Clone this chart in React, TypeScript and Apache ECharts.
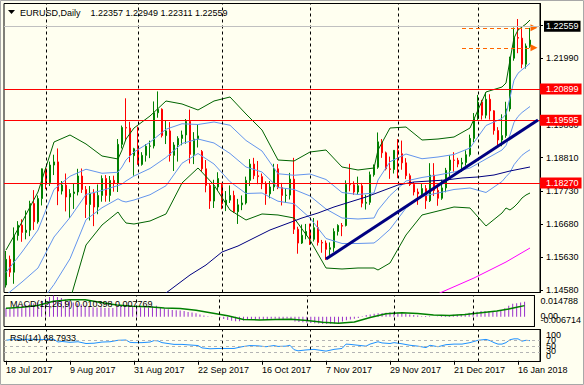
import React, { useEffect, useRef } from 'react';
import * as echarts from 'echarts';

const FONT = 'Liberation Sans';
const BG = '#FFFFF0';
const SLOTS = 134;

const dateLabels = ['18 Jul 2017', '9 Aug 2017', '31 Aug 2017', '22 Sep 2017', '16 Oct 2017', '7 Nov 2017', '29 Nov 2017', '21 Dec 2017', '16 Jan 2018'];
const monthStartBars = [10, 33, 54, 76, 98, 118];

const opens = [1.1474,1.1556,1.1515,1.1632,1.1665,1.1642,1.1649,1.1734,1.1676,1.1750,
 1.1845,1.1801,1.1857,1.1867,1.1774,1.1793,1.1755,1.1766,1.1771,1.1822,
 1.1779,1.1731,1.1767,1.1723,1.1760,1.1814,1.1760,1.1808,1.1799,1.1923,
 1.1977,1.1975,1.1887,1.1909,1.1859,1.1888,1.1917,1.1918,1.2024,1.2035,
 1.1951,1.1966,1.1888,1.1921,1.1942,1.1953,1.1996,1.1891,1.1940,1.1900,
 1.1845,1.1792,1.1742,1.1787,1.1793,1.1733,1.1745,1.1760,1.1708,1.1730,
 1.1736,1.1808,1.1860,1.1823,1.1820,1.1797,1.1765,1.1787,1.1845,1.1785,
 1.1760,1.1761,1.1812,1.1652,1.1608,1.1633,1.1645,1.1620,1.1657,1.1610,
 1.1608,1.1588,1.1593,1.1645,1.1664,1.1664,1.1795,1.1794,1.1771,1.1791,
 1.1735,1.1738,1.1826,1.1850,1.1931,1.1896,1.1845,1.1843,1.1904,1.1893,
 1.1864,1.1823,1.1795,1.1771,1.1765,1.1782,1.1743,1.1825,1.1776,1.1751,
 1.1784,1.1840,1.1873,1.1872,1.1860,1.1865,1.1890,1.1942,1.2005,1.2058,
 1.2016,1.2067,1.2030,1.1967,1.1937,1.1951,1.2036,1.2198,1.2264,1.2262,
 1.2179,1.22357];

const highs = [1.1583,1.1568,1.1658,1.1678,1.1684,1.1712,1.1743,1.1777,1.1760,1.1846,
 1.1846,1.1868,1.1890,1.1910,1.1806,1.1830,1.1780,1.1797,1.1845,1.1846,
 1.1790,1.1790,1.1780,1.1795,1.1824,1.1825,1.1822,1.1823,1.1940,1.1983,
 1.2070,1.1995,1.1912,1.1980,1.1898,1.1924,1.1935,1.2060,1.2092,1.2038,
 1.2000,1.1994,1.1930,1.1949,1.1967,1.2004,1.2034,1.1962,1.1985,1.1905,
 1.1873,1.1797,1.1810,1.1834,1.1800,1.1774,1.1792,1.1775,1.1749,1.1760,
 1.1820,1.1876,1.1880,1.1870,1.1830,1.1805,1.1806,1.1861,1.1860,1.1800,
 1.1781,1.1832,1.1880,1.1660,1.1667,1.1669,1.1670,1.1688,1.1680,1.1618,
 1.1616,1.1610,1.1655,1.1668,1.1672,1.1808,1.1861,1.1805,1.1820,1.1800,
 1.1762,1.1836,1.1859,1.1961,1.1940,1.1900,1.1884,1.1905,1.1940,1.1935,
 1.1879,1.1830,1.1803,1.1782,1.1799,1.1793,1.1863,1.1863,1.1790,1.1810,
 1.1848,1.1888,1.1898,1.1880,1.1880,1.1904,1.1954,1.2023,1.2081,1.2065,
 1.2089,1.2083,1.2032,1.1978,1.2019,1.2059,1.2203,1.2296,1.2323,1.2296,
 1.2245,1.22949];

const lows = [1.1466,1.1500,1.1478,1.1616,1.1612,1.1620,1.1630,1.1650,1.1670,1.1728,
 1.1780,1.1790,1.1825,1.1729,1.1763,1.1709,1.1688,1.1717,1.1760,1.1768,
 1.1688,1.1680,1.1662,1.1700,1.1740,1.1740,1.1740,1.1772,1.1771,1.1910,
 1.1935,1.1866,1.1823,1.1858,1.1855,1.1868,1.1879,1.1910,1.2008,1.1945,
 1.1924,1.1868,1.1838,1.1868,1.1920,1.1925,1.1862,1.1860,1.1913,1.1836,
 1.1770,1.1717,1.1720,1.1774,1.1716,1.1710,1.1736,1.1704,1.1669,1.1713,
 1.1731,1.1790,1.1812,1.1796,1.1780,1.1730,1.1751,1.1774,1.1780,1.1728,
 1.1736,1.1747,1.1637,1.1574,1.1605,1.1620,1.1602,1.1613,1.1600,1.1577,
 1.1554,1.1567,1.1580,1.1632,1.1630,1.1661,1.1773,1.1762,1.1762,1.1722,
 1.1715,1.1730,1.1820,1.1845,1.1880,1.1840,1.1813,1.1830,1.1815,1.1842,
 1.1812,1.1790,1.1760,1.1730,1.1758,1.1717,1.1739,1.1758,1.1727,1.1746,
 1.1770,1.1820,1.1836,1.1850,1.1835,1.1855,1.1884,1.1930,1.2000,1.2002,
 1.2006,1.2002,1.1954,1.1915,1.1917,1.1944,1.2028,1.2190,1.2214,1.2166,
 1.2165,1.22311];

const closes = [1.1556,1.1515,1.1632,1.1665,1.1642,1.1649,1.1734,1.1676,1.1750,1.1845,
 1.1801,1.1857,1.1867,1.1774,1.1793,1.1755,1.1766,1.1771,1.1822,1.1779,
 1.1731,1.1767,1.1723,1.1760,1.1814,1.1760,1.1808,1.1799,1.1923,1.1977,
 1.1975,1.1887,1.1909,1.1859,1.1888,1.1917,1.1918,1.2024,1.2035,1.1951,
 1.1966,1.1888,1.1921,1.1942,1.1953,1.1996,1.1891,1.1940,1.1950,1.1845,
 1.1792,1.1742,1.1787,1.1814,1.1733,1.1745,1.1760,1.1708,1.1730,1.1736,
 1.1808,1.1860,1.1823,1.1820,1.1797,1.1765,1.1787,1.1845,1.1785,1.1760,
 1.1761,1.1812,1.1652,1.1608,1.1633,1.1645,1.1620,1.1657,1.1610,1.1608,
 1.1588,1.1593,1.1645,1.1664,1.1662,1.1795,1.1794,1.1771,1.1791,1.1735,
 1.1738,1.1826,1.1850,1.1931,1.1896,1.1845,1.1843,1.1904,1.1893,1.1864,
 1.1823,1.1795,1.1771,1.1765,1.1782,1.1743,1.1825,1.1776,1.1751,1.1784,
 1.1840,1.1873,1.1872,1.1860,1.1865,1.1890,1.1942,1.2005,1.2058,1.2016,
 1.2067,1.2030,1.1967,1.1937,1.1951,1.2036,1.2198,1.2264,1.2262,1.2179,
 1.2237,1.22559];

// Bollinger bands (20,2 green; 20,1 blue with middle), read at sample bars
const bandIdx = [0,4,8,12,16,20,24,28,29,30,32,36,40,44,48,52,56,60,64,68,72,76,80,84,88,92,93,96,100,104,108,112,116,120,124,125,126,127,128,129,130,131];
const bbUpper2 = [1.15858,1.16752,1.17710,1.19306,1.19529,1.19242,1.18859,1.18763,1.19050,1.19401,1.19752,1.20135,1.20614,1.20519,1.20327,1.20614,1.20742,1.20199,1.19689,1.18731,1.18699,1.18986,1.19050,1.18508,1.18412,1.18476,1.19050,1.19752,1.19784,1.19369,1.19401,1.19465,1.19752,1.20902,1.21061,1.21189,1.21923,1.22625,1.22880,1.22976,1.23072,1.23200];
const bbUpper1 = [1.15140,1.15795,1.16497,1.17790,1.18212,1.18436,1.18308,1.18340,1.18508,1.18731,1.18986,1.19298,1.19713,1.19888,1.19864,1.19944,1.19840,1.19354,1.19018,1.18292,1.18244,1.18284,1.18109,1.17694,1.17630,1.17678,1.18093,1.18675,1.18923,1.18771,1.18827,1.18907,1.19114,1.19832,1.20056,1.20191,1.20726,1.21277,1.21500,1.21612,1.21707,1.21819];
const bbMiddle = [1.14422,1.14837,1.15284,1.16273,1.16896,1.17630,1.17758,1.17917,1.17965,1.18061,1.18220,1.18460,1.18811,1.19258,1.19401,1.19274,1.18939,1.18508,1.18348,1.17853,1.17790,1.17582,1.17167,1.16880,1.16848,1.16880,1.17135,1.17598,1.18061,1.18173,1.18252,1.18348,1.18476,1.18763,1.19050,1.19194,1.19529,1.19928,1.20120,1.20247,1.20343,1.20439];
const bbLower1 = [1.13704,1.13880,1.14071,1.14757,1.15579,1.16824,1.17207,1.17494,1.17422,1.17391,1.17454,1.17622,1.17909,1.18627,1.18939,1.18603,1.18037,1.17662,1.17678,1.17415,1.17335,1.16880,1.16226,1.16066,1.16066,1.16082,1.16178,1.16521,1.17199,1.17574,1.17678,1.17790,1.17837,1.17694,1.18045,1.18196,1.18332,1.18580,1.18739,1.18883,1.18978,1.19058];
const bbLower2 = [1.12986,1.12922,1.12858,1.13241,1.14263,1.16018,1.16656,1.17071,1.16880,1.16720,1.16688,1.16784,1.17008,1.17997,1.18476,1.17933,1.17135,1.16816,1.17008,1.16976,1.16880,1.16178,1.15284,1.15252,1.15284,1.15284,1.15220,1.15443,1.16337,1.16976,1.17103,1.17231,1.17199,1.16625,1.17039,1.17199,1.17135,1.17231,1.17359,1.17518,1.17614,1.17678];

// moving averages
const maNavyIdx = [36,42,46,50,54,58,62,66,70,74,78,82,86,90,94,98,102,106,110,114,118,122,126,131];
const maNavyVals = [1.14103,1.14678,1.15061,1.15380,1.15795,1.15986,1.16242,1.16497,1.16688,1.16880,1.17039,1.17231,1.17391,1.17550,1.17742,1.17933,1.18029,1.18061,1.18093,1.18157,1.18189,1.18252,1.18380,1.18508];
const maMagentaIdx = [106,109,113,117,121,125,128,131];
const maMagentaVals = [1.14326,1.14518,1.14741,1.14965,1.15220,1.15475,1.15699,1.15922];

// trend line
const trendIdx = [80, 133];
const trendVals = [1.1557, 1.2001];

const levelLines = [1.20899, 1.19595, 1.18270];
const bidPrice = 1.22559;
const lastBarHigh = 1.22949;
const lastBarLow = 1.22311;
const headerPrices = [1.22357, 1.22949, 1.22311, 1.22559];
const priceTicks = [1.2304, 1.2199, 1.1986, 1.1881, 1.1773, 1.1668, 1.1563, 1.1458];

const macdHist = [0.0062,0.0061,0.0068,0.0076,0.0080,0.0084,0.0092,0.0093,0.0099,0.0112,
 0.0125,0.0138,0.01478,0.0138,0.0130,0.0120,0.0110,0.0100,0.0093,0.0085,
 0.0076,0.0072,0.0066,0.0064,0.0066,0.0062,0.0063,0.0062,0.0071,0.0078,
 0.0082,0.0076,0.0074,0.0068,0.0066,0.0066,0.0065,0.0073,0.0076,0.0064,
 0.0058,0.0052,0.0048,0.0045,0.0043,0.0040,0.0033,0.0030,0.0025,0.0016,
 0.0010,0.0004,0.0002,0.0001,-0.0009,-0.0015,-0.0022,-0.0027,-0.0031,-0.0031,
 -0.0026,-0.0020,-0.0017,-0.0016,-0.0017,-0.0019,-0.0018,-0.0013,-0.0014,-0.0016,
 -0.0017,-0.0012,-0.0022,-0.0032,-0.0036,-0.0038,-0.0041,-0.0042,-0.0045,-0.0047,
 -0.0050,-0.0050,-0.0048,-0.0046,-0.0045,-0.0033,-0.0024,-0.0019,-0.0014,-0.0008,
 0.0004,0.0012,0.0016,0.0022,0.0025,0.0027,0.0028,0.0031,0.0031,0.0030,
 0.0026,0.0021,0.0016,0.0012,0.0009,0.0004,0.0006,0.0004,0.0001,0.0002,
 0.0006,0.0011,0.0013,0.0014,0.0015,0.0017,0.0022,0.0029,0.0033,0.0036,
 0.0040,0.0041,0.0040,0.0038,0.0039,0.0044,0.0060,0.0077,0.0090,0.0094,
 0.0099,0.010398];
const signalIdx = [0,4,8,12,16,20,24,28,32,36,40,44,48,52,56,60,64,68,72,76,80,84,88,92,96,100,104,108,112,116,120,124,127,129,131];
const signalVals = [0.0060,0.0066,0.0078,0.0108,0.0118,0.0118,0.0100,0.0082,0.0073,0.0070,0.0062,0.0057,0.0045,0.0027,0.0007,-0.0018,-0.0022,-0.0019,-0.0017,-0.0026,-0.0038,-0.0044,-0.0036,-0.0005,0.0022,0.0028,0.0023,0.0013,0.0009,0.0016,0.0029,0.0040,0.0055,0.0066,0.007769];
const macdTicks = [0.014788, 0, -0.006714];
const macdTickText = ['0.014788', '0.00', '-0.006714'];
const macdLabelShift = [5.5, -0.5, -6.5];

const rsiIdx = [0,2,4,6,8,10,12,13,14,16,18,20,22,24,26,28,30,31,32,34,36,37,38,39,41,42,44,46,48,49,51,53,55,57,59,61,63,65,67,68,70,71,72,73,75,77,79,80,82,84,85,86,88,90,91,93,94,96,97,99,101,103,105,106,108,110,112,114,116,117,118,120,121,122,123,124,125,126,127,128,129,130,131];
const rsiVals = [70,74,72,74,72,73,73,64,66,63,65,59,60,64,65,70,71,63,62,62,64,69,68,62,58,56,56,54,52,44,41,42,42,42,48,52,51,48,52,49,50,53,38,34,37,39,35,33,39,42,57,56,53,50,57,65,61,59,62,58,53,50,45,53,48,55,57,57,62,66,70,73,69,62,57,57,62,72,75,75,67,70,68.79];
const rsiTicks = [100, 70, 50, 30, 0];
const rsiLabelShift = [3.5, 0, 0, -1, -5];
const rsiLevels = [70, 50, 30];

const pairs = (idx: number[], vals: number[]) => idx.map((x, k) => [x, vals[k]]);

function buildOption() {
  const cats = Array.from({ length: SLOTS }, (_, i) => String(i));
  const txt = { fontSize: 9, fontFamily: FONT, color: '#000' };
  const vDash = monthStartBars.map((b) => ({ xAxis: b, lineStyle: { color: '#000', type: [3, 3], width: 1 } }));
  const xAxisOf = (gridIndex: number, labels: boolean) => ({
    type: 'category', gridIndex, data: cats, boundaryGap: true,
    axisLine: { show: false },
    axisTick: labels
      ? { show: true, interval: (i: number) => i % 16 === 0, alignWithLabel: true, length: 4, lineStyle: { color: '#000' } }
      : { show: false },
    axisLabel: labels
      ? { show: true, interval: (i: number) => i % 16 === 0, formatter: (_v: string, i: number) => dateLabels[Math.round(i / 16)] || '', align: 'left', margin: 4, ...txt }
      : { show: false },
    splitLine: { show: false },
  });
  // one y axis per sub-window label, so that every label is kept as in the reference
  const labelAxis = (gridIndex: number, min: number, max: number, value: number, text: string, shift: number) => {
    const pad = Math.round(Math.abs(shift) * 2);
    const padding = shift > 0 ? [pad, 0, 0, 0] : shift < 0 ? [0, 0, pad, 0] : [0, 0, 0, 0];
    return {
      type: 'value', gridIndex, position: 'right', min, max,
      axisLine: { show: false }, axisTick: { show: false }, splitLine: { show: false },
      axisLabel: {
        show: true, showMinLabel: true, showMaxLabel: true, customValues: [value], margin: 6, ...txt,
        formatter: () => `{t|${text}}`,
        rich: { t: { ...txt, padding } },
      },
    };
  };
  const bandLine = (vals: number[], color: string) => ({
    type: 'line', xAxisIndex: 0, yAxisIndex: 0, data: pairs(bandIdx, vals), symbol: 'none', silent: true,
    lineStyle: { color, width: 1 }, z: 3,
  });
  const ohlc = opens.map((o, i) => [o, closes[i], lows[i], highs[i]]);
  const macdMin = -0.006714, macdMax = 0.014788, rsiMin = -2.5, rsiMax = 106.9;

  return {
    animation: false,
    backgroundColor: BG,
    grid: [
      { left: 4, top: 3.5, width: 536, height: 289, show: true, borderColor: '#000', borderWidth: 1, backgroundColor: 'transparent' },
      { left: 4, top: 295.5, width: 536, height: 31, show: true, borderColor: '#000', borderWidth: 1, backgroundColor: 'transparent' },
      { left: 4, top: 329.5, width: 536, height: 32, show: true, borderColor: '#000', borderWidth: 1, backgroundColor: 'transparent' },
    ],
    xAxis: [xAxisOf(0, false), xAxisOf(1, false), xAxisOf(2, true)],
    yAxis: [
      {
        type: 'value', position: 'right', gridIndex: 0, min: 1.145019, max: 1.237262, splitLine: { show: false },
        axisLine: { show: true, lineStyle: { color: '#000' } },
        axisTick: { show: true, length: 3, customValues: priceTicks, lineStyle: { color: '#000' } },
        axisLabel: { show: true, showMinLabel: true, showMaxLabel: true, customValues: priceTicks, formatter: (v: number) => v.toFixed(5), margin: 6, ...txt },
      },
      {
        type: 'value', position: 'right', gridIndex: 1, min: macdMin, max: macdMax, splitLine: { show: false },
        axisLine: { show: true, lineStyle: { color: '#000' } }, axisTick: { show: false }, axisLabel: { show: false },
      },
      {
        type: 'value', position: 'right', gridIndex: 2, min: rsiMin, max: rsiMax, splitLine: { show: false },
        axisLine: { show: true, lineStyle: { color: '#000' } }, axisTick: { show: false }, axisLabel: { show: false },
      },
      ...macdTicks.map((v, k) => labelAxis(1, macdMin, macdMax, v, macdTickText[k], macdLabelShift[k])),
      ...rsiTicks.map((v, k) => labelAxis(2, rsiMin, rsiMax, v, String(v), rsiLabelShift[k])),
    ],
    graphic: [
      { type: 'rect', silent: true, z: 0, shape: { x: 0.5, y: 0.5, width: 583, height: 384 }, style: { fill: 'none', stroke: '#a8a8a8', lineWidth: 1 } },
      { type: 'polygon', silent: true, z: 10, shape: { points: [[8, 10], [15, 10], [11.5, 14]] }, style: { fill: '#000' } },
      { type: 'text', silent: true, z: 10, x: 20, y: 12.5, style: { text: 'EURUSD,Daily', fill: '#000', fontSize: 9, fontFamily: FONT, verticalAlign: 'middle' } },
      { type: 'text', silent: true, z: 10, x: 90.5, y: 12.5, style: { text: headerPrices.map((p) => p.toFixed(5)).join(' '), fill: '#000', fontSize: 9, fontFamily: FONT, verticalAlign: 'middle' } },
      { type: 'text', silent: true, z: 10, x: 10, y: 304, style: { text: `MACD(12,26,9) ${macdHist[macdHist.length - 1].toFixed(6)} ${signalVals[signalVals.length - 1].toFixed(6)}`, fill: '#000', fontSize: 9, fontFamily: FONT, verticalAlign: 'middle' } },
      { type: 'text', silent: true, z: 10, x: 10, y: 338, style: { text: `RSI(14) ${'68.7933'}`, fill: '#000', fontSize: 9, fontFamily: FONT, verticalAlign: 'middle' } },
    ],
    series: [
      {
        type: 'candlestick', xAxisIndex: 0, yAxisIndex: 0, data: ohlc, barWidth: 2, silent: true, z: 2,
        itemStyle: { color: '#00a000', color0: '#ff0000', borderColor: '#008000', borderColor0: '#ff0000', borderWidth: 1 },
      },
      bandLine(bbUpper2, '#006400'),
      bandLine(bbUpper1, '#6495ED'),
      bandLine(bbMiddle, '#6495ED'),
      bandLine(bbLower1, '#6495ED'),
      {
        ...bandLine(bbLower2, '#006400'),
        markLine: { silent: true, symbol: ['none', 'none'], label: { show: false }, data: vDash },
      },
      {
        type: 'line', xAxisIndex: 0, yAxisIndex: 0, data: pairs(maNavyIdx, maNavyVals), symbol: 'none', silent: true,
        lineStyle: { color: '#000080', width: 1 }, z: 3,
      },
      {
        type: 'line', xAxisIndex: 0, yAxisIndex: 0, data: pairs(maMagentaIdx, maMagentaVals), symbol: 'none', silent: true,
        lineStyle: { color: '#ff00ff', width: 1 }, z: 3,
        markLine: {
          silent: true, symbol: ['none', 'triangle'], symbolSize: 7, label: { show: false },
          lineStyle: { color: '#ff6600', type: [4, 3], width: 1 },
          data: [lastBarHigh, lastBarLow].map((p) => [{ coord: [114, p] }, { coord: [132, p] }]),
        },
      },
      {
        type: 'line', xAxisIndex: 0, yAxisIndex: 0, data: pairs(trendIdx, trendVals), symbol: 'none', silent: true,
        lineStyle: { color: '#000080', width: 3 }, z: 5,
        markLine: {
          silent: true, symbol: ['none', 'none'],
          data: [
            {
              yAxis: bidPrice, lineStyle: { color: '#c0c0c0', type: 'solid', width: 1 },
              label: { show: true, position: 'end', distance: 4, formatter: bidPrice.toFixed(5), color: '#fff', backgroundColor: '#000', padding: [1, 2, 0, 2], lineHeight: 10, fontSize: 9, fontFamily: FONT },
            },
            ...levelLines.map((p) => ({
              yAxis: p, lineStyle: { color: '#ff0000', type: 'solid', width: 1 },
              label: { show: true, position: 'end', distance: 0, formatter: p.toFixed(5), color: '#fff', backgroundColor: '#ff0000', padding: [1, 3, 0, 6], lineHeight: 10, fontSize: 9, fontFamily: FONT },
            })),
          ],
        },
      },
      {
        type: 'bar', xAxisIndex: 1, yAxisIndex: 1, data: macdHist, barWidth: 1, silent: true,
        itemStyle: { color: '#9932CC' },
        markLine: { silent: true, symbol: ['none', 'none'], label: { show: false }, data: vDash },
      },
      {
        type: 'line', xAxisIndex: 1, yAxisIndex: 1, data: pairs(signalIdx, signalVals), symbol: 'none', silent: true,
        lineStyle: { color: '#008000', width: 1.5 }, z: 3,
      },
      {
        type: 'line', xAxisIndex: 2, yAxisIndex: 2, data: pairs(rsiIdx, rsiVals), symbol: 'none', silent: true,
        lineStyle: { color: '#1E90FF', width: 1 }, z: 3,
        markLine: {
          silent: true, symbol: ['none', 'none'], label: { show: false },
          data: [
            ...vDash,
            ...rsiLevels.map((v) => ({ yAxis: v, lineStyle: { color: '#b4b4b4', type: [3, 3], width: 1 } })),
          ],
        },
      },
    ],
  };
}

export default function App() {
  const ref = useRef<HTMLDivElement>(null);
  useEffect(() => {
    if (!ref.current) return;
    const chart = echarts.init(ref.current, null, { renderer: 'svg' });
    chart.setOption(buildOption() as any);
    return () => chart.dispose();
  }, []);
  return <div ref={ref} style={{ position: 'fixed', left: 0, top: 0, width: 584, height: 385, background: BG }} />;
}
